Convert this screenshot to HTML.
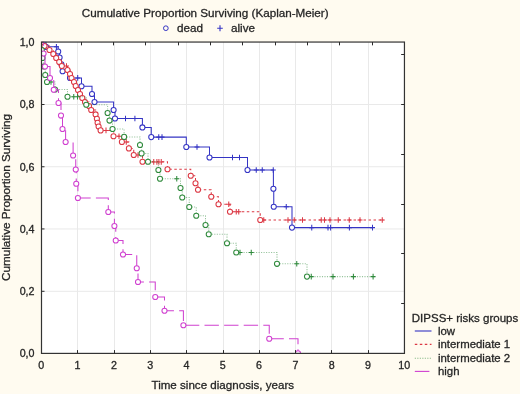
<!DOCTYPE html>
<html lang="en"><head><meta charset="utf-8"><title>Cumulative Proportion Surviving (Kaplan-Meier)</title>
<style>html,body{margin:0;padding:0;background:#fffbf0}body{width:520px;height:394px;overflow:hidden}svg{display:block}text{font-family:"Liberation Sans",sans-serif;fill:#262626;stroke:#262626;stroke-width:0.3px}</style>
</head><body>
<svg width="520" height="394" viewBox="0 0 520 394">
<rect x="0" y="0" width="520" height="394" fill="#fffbf0"/>
<rect x="41.50" y="42.05" width="362.95" height="311.35" fill="#ffffff"/>
<path d="M77.50 42.05V353.40M114.50 42.05V353.40M150.50 42.05V353.40M186.50 42.05V353.40M223.50 42.05V353.40M259.50 42.05V353.40M295.50 42.05V353.40M331.50 42.05V353.40M368.50 42.05V353.40M41.50 291.30H404.45M41.50 228.95H404.45M41.50 166.75H404.45M41.50 104.50H404.45" stroke="#e9e9e9" stroke-width="1" fill="none"/>
<defs><clipPath id="pc"><rect x="41.20" y="41.75" width="363.55" height="311.65"/></clipPath></defs>
<g stroke="#3434c4" fill="none" stroke-width="1.05" clip-path="url(#pc)"><path d="M41.50 42.05L46.00 42.05L46.00 46.80L58.20 46.80L58.20 51.50L59.60 51.50L59.60 57.60L61.40 57.60L61.40 64.30L62.60 64.30L62.60 71.25L70.00 71.25L70.00 77.90L81.50 77.90L81.50 86.25L92.00 86.25L92.00 94.00L94.50 94.00L94.50 102.00L113.60 102.00L113.60 110.00L115.00 110.00L115.00 118.50L142.40 118.50L142.40 127.40L151.25 127.40L151.25 137.10L186.30 137.10L186.30 147.00L209.50 147.00L209.50 157.50L247.50 157.50L247.50 170.00L273.40 170.00L273.40 188.75L273.75 188.75L273.75 206.75L292.00 206.75L292.00 227.60L372.50 227.60"/><path d="M53.90 46.80h5M56.40 44.00v5.6M75.20 77.90h5M77.70 75.10v5.6M123.00 118.50h5M125.50 115.70v5.6M132.40 118.50h5M134.90 115.70v5.6M156.25 137.10h5M158.75 134.30v5.6M159.50 137.10h5M162.00 134.30v5.6M194.50 147.00h5M197.00 144.20v5.6M230.00 157.50h5M232.50 154.70v5.6M237.00 157.50h5M239.50 154.70v5.6M253.75 170.00h5M256.25 167.20v5.6M259.75 170.00h5M262.25 167.20v5.6M270.75 170.00h5M273.25 167.20v5.6M283.75 206.75h5M286.25 203.95v5.6M309.25 227.60h5M311.75 224.80v5.6M325.50 227.60h5M328.00 224.80v5.6M328.10 227.60h5M330.60 224.80v5.6M346.90 227.60h5M349.40 224.80v5.6M370.00 227.60h5M372.50 224.80v5.6"/><circle cx="46.00" cy="46.80" r="2.55" fill="#fff"/><circle cx="58.20" cy="51.50" r="2.55" fill="#fff"/><circle cx="59.60" cy="57.60" r="2.55" fill="#fff"/><circle cx="61.40" cy="64.30" r="2.55" fill="#fff"/><circle cx="62.60" cy="71.25" r="2.55" fill="#fff"/><circle cx="70.00" cy="77.90" r="2.55" fill="#fff"/><circle cx="81.50" cy="86.25" r="2.55" fill="#fff"/><circle cx="92.00" cy="94.00" r="2.55" fill="#fff"/><circle cx="94.50" cy="102.00" r="2.55" fill="#fff"/><circle cx="113.60" cy="110.00" r="2.55" fill="#fff"/><circle cx="115.00" cy="118.50" r="2.55" fill="#fff"/><circle cx="142.40" cy="127.40" r="2.55" fill="#fff"/><circle cx="151.25" cy="137.10" r="2.55" fill="#fff"/><circle cx="186.30" cy="147.00" r="2.55" fill="#fff"/><circle cx="209.50" cy="157.50" r="2.55" fill="#fff"/><circle cx="247.50" cy="170.00" r="2.55" fill="#fff"/><circle cx="273.40" cy="188.75" r="2.55" fill="#fff"/><circle cx="273.75" cy="206.75" r="2.55" fill="#fff"/><circle cx="292.00" cy="227.60" r="2.55" fill="#fff"/></g>
<g stroke="#dc3844" fill="none" stroke-width="1.05" clip-path="url(#pc)"><path d="M41.50 42.05L44.50 42.05L44.50 46.00L49.50 46.00L49.50 50.00L53.30 50.00L53.30 54.00L56.20 54.00L56.20 58.00L59.20 58.00L59.20 62.00L61.80 62.00L61.80 66.00L67.50 66.00L67.50 70.00L70.00 70.00L70.00 74.00L71.50 74.00L71.50 78.00L74.00 78.00L74.00 82.00L75.70 82.00L75.70 86.00L78.00 86.00L78.00 90.00L80.00 90.00L80.00 94.00L82.30 94.00L82.30 98.00L85.00 98.00L85.00 102.00L89.00 102.00L89.00 106.00L91.20 106.00L91.20 110.00L95.60 110.00L95.60 114.40L96.90 114.40L96.90 118.75L97.60 118.75L97.60 122.75L98.60 122.75L98.60 126.50L100.60 126.50L100.60 130.40L113.50 130.40L113.50 136.25L121.90 136.25L121.90 141.90L128.90 141.90L128.90 148.40L133.75 148.40L133.75 155.00L142.50 155.00L142.50 161.75L167.50 161.75L167.50 169.25L190.75 169.25L190.75 175.75L195.50 175.75L195.50 183.25L198.00 183.25L198.00 189.75L211.25 189.75L211.25 196.75L218.50 196.75L218.50 204.25L230.00 204.25L230.00 211.75L260.25 211.75L260.25 220.00L384.00 220.00" stroke-dasharray="2.5 2.5"/><path d="M64.00 66.00h5M66.50 63.20v5.6M103.50 130.40h5M106.00 127.60v5.6M116.50 136.25h5M119.00 133.45v5.6M123.75 141.90h5M126.25 139.10v5.6M135.50 155.00h5M138.00 152.20v5.6M151.25 161.90h5M153.75 159.10v5.6M154.40 161.90h5M156.90 159.10v5.6M156.40 161.90h5M158.90 159.10v5.6M158.75 161.90h5M161.25 159.10v5.6M226.25 204.25h5M228.75 201.45v5.6M233.75 211.75h5M236.25 208.95v5.6M236.25 211.75h5M238.75 208.95v5.6M261.25 220.00h5M263.75 217.20v5.6M285.50 220.00h5M288.00 217.20v5.6M291.75 220.00h5M294.25 217.20v5.6M300.00 220.00h5M302.50 217.20v5.6M318.75 220.00h5M321.25 217.20v5.6M322.00 220.00h5M324.50 217.20v5.6M327.50 220.00h5M330.00 217.20v5.6M335.75 220.00h5M338.25 217.20v5.6M346.75 220.00h5M349.25 217.20v5.6M357.50 220.00h5M360.00 217.20v5.6M379.75 220.00h5M382.25 217.20v5.6"/><circle cx="44.50" cy="46.00" r="2.55" fill="#fff"/><circle cx="49.50" cy="50.00" r="2.55" fill="#fff"/><circle cx="53.30" cy="54.00" r="2.55" fill="#fff"/><circle cx="56.20" cy="58.00" r="2.55" fill="#fff"/><circle cx="59.20" cy="62.00" r="2.55" fill="#fff"/><circle cx="61.80" cy="66.00" r="2.55" fill="#fff"/><circle cx="67.50" cy="70.00" r="2.55" fill="#fff"/><circle cx="70.00" cy="74.00" r="2.55" fill="#fff"/><circle cx="71.50" cy="78.00" r="2.55" fill="#fff"/><circle cx="74.00" cy="82.00" r="2.55" fill="#fff"/><circle cx="75.70" cy="86.00" r="2.55" fill="#fff"/><circle cx="78.00" cy="90.00" r="2.55" fill="#fff"/><circle cx="80.00" cy="94.00" r="2.55" fill="#fff"/><circle cx="82.30" cy="98.00" r="2.55" fill="#fff"/><circle cx="85.00" cy="102.00" r="2.55" fill="#fff"/><circle cx="89.00" cy="106.00" r="2.55" fill="#fff"/><circle cx="91.20" cy="110.00" r="2.55" fill="#fff"/><circle cx="95.60" cy="114.40" r="2.55" fill="#fff"/><circle cx="96.90" cy="118.75" r="2.55" fill="#fff"/><circle cx="97.60" cy="122.75" r="2.55" fill="#fff"/><circle cx="98.60" cy="126.50" r="2.55" fill="#fff"/><circle cx="100.60" cy="130.40" r="2.55" fill="#fff"/><circle cx="113.50" cy="136.25" r="2.55" fill="#fff"/><circle cx="121.90" cy="141.90" r="2.55" fill="#fff"/><circle cx="128.90" cy="148.40" r="2.55" fill="#fff"/><circle cx="133.75" cy="155.00" r="2.55" fill="#fff"/><circle cx="142.50" cy="161.75" r="2.55" fill="#fff"/><circle cx="167.50" cy="169.25" r="2.55" fill="#fff"/><circle cx="190.75" cy="175.75" r="2.55" fill="#fff"/><circle cx="195.50" cy="183.25" r="2.55" fill="#fff"/><circle cx="198.00" cy="189.75" r="2.55" fill="#fff"/><circle cx="211.25" cy="196.75" r="2.55" fill="#fff"/><circle cx="218.50" cy="204.25" r="2.55" fill="#fff"/><circle cx="230.00" cy="211.75" r="2.55" fill="#fff"/><circle cx="260.25" cy="220.00" r="2.55" fill="#fff"/></g>
<g stroke="#2f8a3c" fill="none" stroke-width="1.05" clip-path="url(#pc)"><path d="M41.50 42.05L41.80 42.05L41.80 50.00L42.50 50.00L42.50 58.00L43.75 58.00L43.75 66.50L45.25 66.50L45.25 75.00L47.00 75.00L47.00 82.00L55.00 82.00L55.00 89.50L67.50 89.50L67.50 96.75L86.25 96.75L86.25 104.75L107.60 104.75L107.60 113.00L109.50 113.00L109.50 120.60L112.50 120.60L112.50 129.00L124.10 129.00L124.10 136.90L140.00 136.90L140.00 145.00L141.60 145.00L141.60 153.40L148.00 153.40L148.00 161.75L158.40 161.75L158.40 170.00L160.00 170.00L160.00 178.75L180.50 178.75L180.50 188.00L182.25 188.00L182.25 197.50L189.25 197.50L189.25 207.00L196.25 207.00L196.25 215.75L205.50 215.75L205.50 225.00L208.75 225.00L208.75 234.25L227.00 234.25L227.00 243.25L236.25 243.25L236.25 252.50L277.00 252.50L277.00 263.80L307.00 263.80L307.00 276.60L375.00 276.60" stroke-dasharray="1.1 1.4" stroke-opacity="0.5"/><path d="M48.50 82.00h5M51.00 79.20v5.6M71.25 96.75h5M73.75 93.95v5.6M75.00 96.75h5M77.50 93.95v5.6M174.25 178.75h5M176.75 175.95v5.6M237.50 252.50h5M240.00 249.70v5.6M248.75 252.50h5M251.25 249.70v5.6M294.25 263.80h5M296.75 261.00v5.6M308.75 276.60h5M311.25 273.80v5.6M330.50 276.60h5M333.00 273.80v5.6M350.90 276.60h5M353.40 273.80v5.6M370.60 276.60h5M373.10 273.80v5.6"/><circle cx="41.80" cy="50.00" r="2.55" fill="#fff"/><circle cx="42.50" cy="58.00" r="2.55" fill="#fff"/><circle cx="43.75" cy="66.50" r="2.55" fill="#fff"/><circle cx="45.25" cy="75.00" r="2.55" fill="#fff"/><circle cx="47.00" cy="82.00" r="2.55" fill="#fff"/><circle cx="55.00" cy="89.50" r="2.55" fill="#fff"/><circle cx="67.50" cy="96.75" r="2.55" fill="#fff"/><circle cx="86.25" cy="104.75" r="2.55" fill="#fff"/><circle cx="107.60" cy="113.00" r="2.55" fill="#fff"/><circle cx="109.50" cy="120.60" r="2.55" fill="#fff"/><circle cx="112.50" cy="129.00" r="2.55" fill="#fff"/><circle cx="124.10" cy="136.90" r="2.55" fill="#fff"/><circle cx="140.00" cy="145.00" r="2.55" fill="#fff"/><circle cx="141.60" cy="153.40" r="2.55" fill="#fff"/><circle cx="148.00" cy="161.75" r="2.55" fill="#fff"/><circle cx="158.40" cy="170.00" r="2.55" fill="#fff"/><circle cx="160.00" cy="178.75" r="2.55" fill="#fff"/><circle cx="180.50" cy="188.00" r="2.55" fill="#fff"/><circle cx="182.25" cy="197.50" r="2.55" fill="#fff"/><circle cx="189.25" cy="207.00" r="2.55" fill="#fff"/><circle cx="196.25" cy="215.75" r="2.55" fill="#fff"/><circle cx="205.50" cy="225.00" r="2.55" fill="#fff"/><circle cx="208.75" cy="234.25" r="2.55" fill="#fff"/><circle cx="227.00" cy="243.25" r="2.55" fill="#fff"/><circle cx="236.25" cy="252.50" r="2.55" fill="#fff"/><circle cx="277.00" cy="263.80" r="2.55" fill="#fff"/><circle cx="307.00" cy="276.60" r="2.55" fill="#fff"/></g>
<g stroke="#d040d0" fill="none" stroke-width="1.05" clip-path="url(#pc)"><path d="M41.50 42.05L43.60 42.05L43.60 53.50L45.00 53.50L45.00 66.50L50.00 66.50L50.00 78.00L53.75 78.00L53.75 89.75" stroke-dasharray="14.4 5.2" stroke-dashoffset="8.55"/><path d="M53.75 89.75L58.50 89.75L58.50 103.00L61.00 103.00L61.00 115.60L62.50 115.60L62.50 129.00L65.60 129.00L65.60 142.00L73.10 142.00L73.10 155.50L75.75 155.50L75.75 169.50L76.25 169.50L76.25 183.75L77.90 183.75L77.90 198.00" stroke-dasharray="14.4 5.2" stroke-dashoffset="6.40"/><path d="M77.90 198.00L108.30 198.00L108.30 212.00L114.40 212.00L114.40 226.00L115.75 226.00L115.75 240.50L123.00 240.50L123.00 254.50L136.75 254.50L136.75 268.25L138.00 268.25L138.00 282.00L155.25 282.00L155.25 297.00L164.50 297.00L164.50 310.75L183.40 310.75L183.40 325.25" stroke-dasharray="14.4 5.2" stroke-dashoffset="1.60"/><path d="M183.40 325.25L269.25 325.25L269.25 338.75L298.00 338.75L298.00 353.20" stroke-dasharray="14.4 5.2" stroke-dashoffset="18.10"/><circle cx="43.60" cy="53.50" r="2.55" fill="#fff"/><circle cx="45.00" cy="66.50" r="2.55" fill="#fff"/><circle cx="50.00" cy="78.00" r="2.55" fill="#fff"/><circle cx="53.75" cy="89.75" r="2.55" fill="#fff"/><circle cx="58.50" cy="103.00" r="2.55" fill="#fff"/><circle cx="61.00" cy="115.60" r="2.55" fill="#fff"/><circle cx="62.50" cy="129.00" r="2.55" fill="#fff"/><circle cx="65.60" cy="142.00" r="2.55" fill="#fff"/><circle cx="73.10" cy="155.50" r="2.55" fill="#fff"/><circle cx="75.75" cy="169.50" r="2.55" fill="#fff"/><circle cx="76.25" cy="183.75" r="2.55" fill="#fff"/><circle cx="77.90" cy="198.00" r="2.55" fill="#fff"/><circle cx="108.30" cy="212.00" r="2.55" fill="#fff"/><circle cx="114.40" cy="226.00" r="2.55" fill="#fff"/><circle cx="115.75" cy="240.50" r="2.55" fill="#fff"/><circle cx="123.00" cy="254.50" r="2.55" fill="#fff"/><circle cx="136.75" cy="268.25" r="2.55" fill="#fff"/><circle cx="138.00" cy="282.00" r="2.55" fill="#fff"/><circle cx="155.25" cy="297.00" r="2.55" fill="#fff"/><circle cx="164.50" cy="310.75" r="2.55" fill="#fff"/><circle cx="183.40" cy="325.25" r="2.55" fill="#fff"/><circle cx="269.25" cy="338.75" r="2.55" fill="#fff"/><circle cx="298.00" cy="353.20" r="2.55" fill="#fff"/></g>
<rect x="41.50" y="42.05" width="362.95" height="311.35" fill="none" stroke="#333333" stroke-width="1.2"/>
<path d="M77.50 353.40v-3.3M114.50 353.40v-3.3M150.50 353.40v-3.3M186.50 353.40v-3.3M223.50 353.40v-3.3M259.50 353.40v-3.3M295.50 353.40v-3.3M331.50 353.40v-3.3M368.50 353.40v-3.3M41.50 291.30h3M41.50 228.95h3M41.50 166.75h3M41.50 104.50h3M372.50 42.05v3.3M339.50 42.05v3.3M307.50 42.05v3.3M275.50 42.05v3.3M242.50 42.05v3.3M210.50 42.05v3.3M178.50 42.05v3.3M145.50 42.05v3.3M113.50 42.05v3.3M81.50 42.05v3.3M401.15 303.50h3.3M401.15 253.50h3.3M401.15 204.50h3.3M401.15 154.50h3.3M401.15 104.50h3.3M401.15 54.50h3.3" stroke="#2a2a2a" stroke-width="1" fill="none"/>
<text x="34.5" y="46.10" font-size="10.7" text-anchor="end">1,0</text>
<text x="34.5" y="108.40" font-size="10.7" text-anchor="end">0,8</text>
<text x="34.5" y="170.65" font-size="10.7" text-anchor="end">0,6</text>
<text x="34.5" y="232.85" font-size="10.7" text-anchor="end">0,4</text>
<text x="34.5" y="295.20" font-size="10.7" text-anchor="end">0,2</text>
<text x="34.5" y="357.30" font-size="10.7" text-anchor="end">0,0</text>
<text x="41.30" y="369.4" font-size="10.7" text-anchor="middle">0</text>
<text x="77.60" y="369.4" font-size="10.7" text-anchor="middle">1</text>
<text x="113.90" y="369.4" font-size="10.7" text-anchor="middle">2</text>
<text x="150.20" y="369.4" font-size="10.7" text-anchor="middle">3</text>
<text x="186.50" y="369.4" font-size="10.7" text-anchor="middle">4</text>
<text x="222.80" y="369.4" font-size="10.7" text-anchor="middle">5</text>
<text x="259.10" y="369.4" font-size="10.7" text-anchor="middle">6</text>
<text x="295.40" y="369.4" font-size="10.7" text-anchor="middle">7</text>
<text x="331.70" y="369.4" font-size="10.7" text-anchor="middle">8</text>
<text x="368.00" y="369.4" font-size="10.7" text-anchor="middle">9</text>
<text x="404.30" y="369.4" font-size="10.7" text-anchor="middle">10</text>
<text x="205.2" y="16.8" font-size="11.66" text-anchor="middle">Cumulative Proportion Surviving (Kaplan-Meier)</text>
<circle cx="165.85" cy="28.2" r="2.35" fill="none" stroke="#3434c4" stroke-width="1"/>
<text x="177.0" y="32.4" font-size="11.7">dead</text>
<path d="M217.2 28.2h5.6M220 25.2v6" stroke="#3434c4" stroke-width="1.1" fill="none"/>
<text x="231.0" y="32.4" font-size="11.7">alive</text>
<text x="222.8" y="389.3" font-size="11.6" text-anchor="middle">Time since diagnosis, years</text>
<text transform="translate(9.5 197.5) rotate(-90)" font-size="11.7" text-anchor="middle">Cumulative Proportion Surviving</text>
<text x="411.8" y="321.5" font-size="11.5">DIPSS+ risks groups</text>
<path d="M414.8 331.0H431.5" stroke="#3434c4" stroke-width="1.1"/>
<path d="M414.8 344.4H431.5" stroke="#dc3844" stroke-width="1.1" stroke-dasharray="2.5 2.5"/>
<path d="M414.8 358.3H431.5" stroke="#2f8a3c" stroke-opacity="0.6" stroke-width="1.1" stroke-dasharray="1.1 1.4"/>
<path d="M414.8 371.4H429.4" stroke="#d040d0" stroke-width="1.1"/>
<text x="438" y="334.9" font-size="11.4">low</text>
<text x="438" y="348.3" font-size="11.4">intermediate 1</text>
<text x="438" y="362.2" font-size="11.4">intermediate 2</text>
<text x="438" y="375.3" font-size="11.4">high</text>
</svg>
</body></html>
